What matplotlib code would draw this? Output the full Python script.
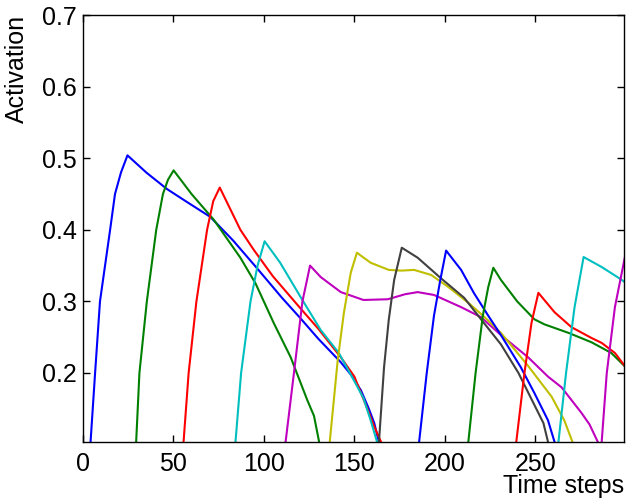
import matplotlib
matplotlib.use("Agg")
import matplotlib.pyplot as plt

# ── data: activation traces (t = time step) ──
t_b1 = [4.2, 6.7, 9.4, 12.2, 15, 17.7, 21, 24.6, 35, 46.4, 58, 70.4, 83, 96.3,
        110, 120, 130, 142.5, 148, 153.6, 158, 161, 163.5]
a_b1 = [0.104, 0.2, 0.3, 0.35, 0.4, 0.45, 0.48, 0.504, 0.48, 0.457, 0.438, 0.418,
        0.385, 0.346, 0.305, 0.277, 0.248, 0.215, 0.198, 0.176, 0.15, 0.13, 0.104]

t_g1 = [29.4, 31.2, 35.3, 40.5, 44.2, 47, 50.1, 60, 72.3, 83.4, 87, 95.4, 105.4,
        114.8, 124, 127.7, 130.5]
a_g1 = [0.104, 0.2, 0.3, 0.4, 0.45, 0.47, 0.483, 0.45, 0.414, 0.374, 0.361, 0.325,
        0.270, 0.222, 0.162, 0.140, 0.104]

t_r1 = [55.6, 58.4, 62.7, 68.6, 72, 75.6, 87, 94.4, 105, 120.3, 130, 142.5, 150,
        157.5, 161, 164.7]
a_r1 = [0.104, 0.2, 0.3, 0.4, 0.44, 0.459, 0.400, 0.372, 0.335, 0.290, 0.262,
        0.222, 0.195, 0.148, 0.125, 0.104]

t_c1 = [84.3, 87.4, 92.6, 96.5, 100.4, 109, 120.3, 131.4, 141.4, 149.7, 155, 159, 162.5]
a_c1 = [0.104, 0.2, 0.3, 0.35, 0.384, 0.354, 0.306, 0.260, 0.228, 0.190, 0.165,
        0.134, 0.104]

t_m1 = [112, 116.6, 121.3, 125.5, 131.4, 142.5, 155, 168.5, 178, 185, 194, 209,
        220, 231, 246, 257, 264.5, 275.6, 280, 284.5]
a_m1 = [0.104, 0.2, 0.3, 0.350, 0.334, 0.313, 0.302, 0.303, 0.310, 0.313, 0.309,
        0.292, 0.278, 0.253, 0.222, 0.195, 0.180, 0.144, 0.128, 0.104]

t_y1 = [136.4, 140.8, 144.2, 148, 151.4, 159, 169, 176, 183, 192.4, 202, 213, 222,
        231, 246, 259, 266, 270.5]
a_y1 = [0.104, 0.218, 0.284, 0.340, 0.368, 0.354, 0.344, 0.343, 0.344, 0.337,
        0.320, 0.298, 0.278, 0.256, 0.210, 0.167, 0.134, 0.104]

t_k1 = [163.6, 166.4, 169, 172, 176.2, 185, 198, 210.7, 220, 231, 240.7, 247, 254.5, 257]
a_k1 = [0.104, 0.208, 0.274, 0.330, 0.375, 0.361, 0.332, 0.305, 0.275, 0.240,
        0.200, 0.168, 0.130, 0.104]

t_b2 = [185.8, 190, 194, 197.5, 200.7, 209, 216, 224, 231, 242, 249.5, 257, 260.6]
a_b2 = [0.104, 0.2, 0.28, 0.33, 0.371, 0.344, 0.312, 0.280, 0.253, 0.208, 0.172,
        0.134, 0.104]

t_g2 = [213, 217, 221, 224, 226.8, 231, 240, 249.5, 255, 268.4, 281, 292, 300]
a_g2 = [0.104, 0.2, 0.28, 0.32, 0.347, 0.330, 0.300, 0.275, 0.268, 0.256, 0.243,
        0.228, 0.208]

t_r2 = [239.5, 244, 247.9, 251.7, 260.6, 270, 281, 286.7, 294, 300]
a_r2 = [0.104, 0.200, 0.270, 0.312, 0.285, 0.264, 0.249, 0.242, 0.228, 0.208]

t_c2 = [262.8, 267, 271.7, 276.7, 286.7, 296, 300]
a_c2 = [0.104, 0.200, 0.292, 0.362, 0.348, 0.333, 0.326]

t_m2 = [286.7, 289.5, 294, 297.8, 300]
a_m2 = [0.104, 0.200, 0.292, 0.340, 0.368]

x_ticks = [0, 50, 100, 150, 200, 250]
y_ticks = [0.2, 0.3, 0.4, 0.5, 0.6, 0.7]

# old MATLAB colour order: b g r c m y k
C = {"b": (0, 0, 1), "g": (0, 0.5, 0), "r": (1, 0, 0), "c": (0, 0.75, 0.75),
     "m": (0.75, 0, 0.75), "y": (0.75, 0.75, 0), "k": (0.25, 0.25, 0.25)}

traces = [(t_b1, a_b1, "b"), (t_g1, a_g1, "g"), (t_r1, a_r1, "r"), (t_c1, a_c1, "c"),
          (t_m1, a_m1, "m"), (t_y1, a_y1, "y"), (t_k1, a_k1, "k"), (t_b2, a_b2, "b"),
          (t_g2, a_g2, "g"), (t_r2, a_r2, "r"), (t_c2, a_c2, "c"), (t_m2, a_m2, "m")]

# ── plot ──────────────────────────────────────────────────────
plt.rcParams["font.family"] = ["Liberation Sans", "DejaVu Sans"]
fig = plt.figure(figsize=(6.30, 4.99), dpi=100)
ax = fig.add_axes([0.1317, 0.1142, 0.8587, 0.8557])

for t, a, c in traces:
    ax.plot(t, a, color=C[c], linewidth=1.5)

ax.set_xlim(0, 299)
ax.set_ylim(0.1036, 0.7)
ax.set_xticks(x_ticks)
ax.set_yticks(y_ticks)
ax.set_yticklabels([f"{v:.1f}" for v in y_ticks])
ax.tick_params(direction="in", top=True, right=True, length=5, width=1,
               labelsize=18)
ax.tick_params(axis="x", pad=7)
ax.tick_params(axis="y", pad=4.5)
for s in ax.spines.values():
    s.set_linewidth(1.0)

ax.set_xlabel("Time steps", fontsize=18, ha="right", va="top")
ax.xaxis.set_label_coords(1.0, -0.075)
ax.set_ylabel("Activation", fontsize=18, loc="top")
ax.yaxis.set_label_coords(-0.10, 1.0)

fig.savefig("out.png", dpi=100)
